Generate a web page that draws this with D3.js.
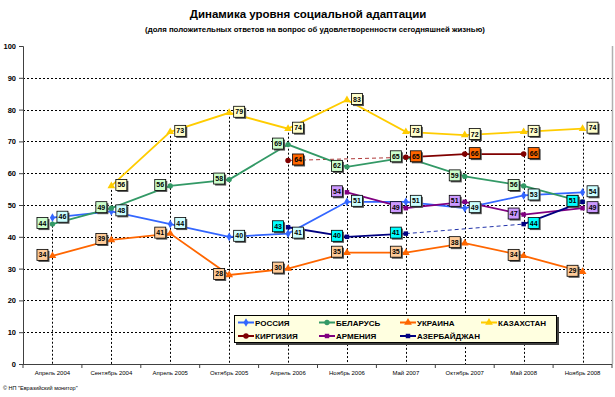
<!DOCTYPE html>
<html>
<head>
  <meta charset="utf-8">
  <script src="https://d3js.org/d3.v7.min.js"></script>
  <style>
    body { margin: 0; background: #fff; }
    svg { display: block; font-family: "Liberation Sans", Arial, sans-serif; }
    .title { font-size: 11.5px; font-weight: bold; fill: #000; }
    .subtitle { font-size: 7.8px; font-weight: bold; fill: #000; }
    .axis--y text { font-size: 7.5px; font-weight: bold; fill: #000; }
    .axis--x text { font-size: 6px; fill: #000; }
    .axis path, .axis line { stroke: #404040; }
    .grid line { stroke: #000; stroke-dasharray: 2,2; stroke-width: 1; }
    .drop line { stroke: #000; stroke-dasharray: 2,2; stroke-width: 1; }
    .legend text { font-size: 8px; font-weight: bold; fill: #000; }
    .vlabel text { font-size: 7px; font-weight: bold; fill: #000; }
    .footer { font-size: 5.5px; fill: #000; }
  </style>
</head>
<body>
  <svg id="chart" width="615" height="397"></svg>
  <script>
    var categories = ["Апрель 2004", "Сентябрь 2004", "Апрель 2005", "Октябрь 2005", "Апрель 2006",
                      "Ноябрь 2006", "Май 2007", "Октябрь 2007", "Май 2008", "Ноябрь 2008"];
    var russia     = [46, 48, 44, 40, 41, 51, 51, 49, 53, 54];
    var belarus    = [44, 49, 56, 58, 69, 62, 65, 59, 56, 51];
    var ukraine    = [34, 39, 41, 28, 30, 35, 35, 38, 34, 29];
    var kazakhstan = [null, 56, 73, 79, 74, 83, 73, 72, 73, 74];
    var kyrgyzstan = [null, null, null, null, 64, null, 65, 66, 66, null];
    var armenia    = [null, null, null, null, null, 54, 49, 51, 47, 49];
    var azerbaijan = [null, null, null, null, 43, 40, 41, null, 44, 51];
    var yTicks = [0, 10, 20, 30, 40, 50, 60, 70, 80, 90, 100];

    // side: 1 = label right of point, -1 = left; flip lists indexes on the other side
    var series = [
      { name: "РОССИЯ", values: russia, color: "#3366ff", symbol: d3.symbolDiamond, size: 22, fill: "#ccffff", side: 1, flip: [] },
      { name: "БЕЛАРУСЬ", values: belarus, color: "#339966", symbol: d3.symbolCircle, size: 22, fill: "#ccffcc", side: -1, flip: [] },
      { name: "УКРАИНА", values: ukraine, color: "#ff6600", symbol: d3.symbolTriangle, size: 26, fill: "#ffcc99", side: -1, flip: [] },
      { name: "КАЗАХСТАН", values: kazakhstan, color: "#ffcc00", symbol: d3.symbolTriangle, size: 26, fill: "#ffffcc", side: 1, flip: [] },
      { name: "КИРГИЗИЯ", values: kyrgyzstan, color: "#800000", symbol: d3.symbolCircle, size: 24, fill: "#ff6600", side: 1, flip: [] },
      { name: "АРМЕНИЯ", values: armenia, color: "#800080", symbol: d3.symbolSquare, size: 20, fill: "#cc99ff", side: -1, flip: [9] },
      { name: "АЗЕРБАЙДЖАН", values: azerbaijan, color: "#000080", symbol: d3.symbolSquare, size: 20, fill: "#00ffff", side: -1, flip: [8] }
    ];
    var gapColors = { "КИРГИЗИЯ": "#b03a3a", "АЗЕРБАЙДЖАН": "#2233aa" };

    var svg = d3.select("#chart");
    var plotLeft = 23, plotRight = 612, plotTop = 46, plotBottom = 364;

    var x = d3.scaleBand().domain(categories).range([plotLeft, plotRight]);
    var y = d3.scaleLinear().domain([0, 100]).range([plotBottom, plotTop]);
    function cx(i) { return x(categories[i]) + x.bandwidth() / 2; }

    svg.append("text").attr("class", "title")
      .attr("x", 308).attr("y", 18).attr("text-anchor", "middle")
      .text("Динамика уровня социальной адаптации");
    svg.append("text").attr("class", "subtitle")
      .attr("x", 315).attr("y", 32).attr("text-anchor", "middle")
      .text("(доля положительных ответов на вопрос об удовлетворенности сегодняшней жизнью)");

    // horizontal grid
    svg.append("g").attr("class", "grid")
      .selectAll("line")
      .data(yTicks.filter(function(d) { return d > 0 && d < 100; }))
      .enter().append("line")
      .attr("x1", plotLeft).attr("x2", plotRight)
      .attr("y1", function(d) { return Math.round(y(d)) + 0.5; })
      .attr("y2", function(d) { return Math.round(y(d)) + 0.5; });

    // drop lines from highest point in each category
    svg.append("g").attr("class", "drop")
      .selectAll("line")
      .data(categories)
      .enter().append("line")
      .attr("x1", function(d, i) { return Math.round(cx(i)) + 0.5; })
      .attr("x2", function(d, i) { return Math.round(cx(i)) + 0.5; })
      .attr("y1", function(d, i) {
        var m = d3.max(series, function(s) { return s.values[i]; });
        return y(m);
      })
      .attr("y2", plotBottom);

    // right border of plot area
    svg.append("line")
      .attr("x1", plotRight + 0.5).attr("x2", plotRight + 0.5)
      .attr("y1", plotTop).attr("y2", plotBottom)
      .attr("stroke", "#b0b0b0").attr("stroke-width", 1.5);

    // axes
    svg.append("g").attr("class", "axis axis--y")
      .attr("transform", "translate(" + plotLeft + ",0)")
      .call(d3.axisLeft(y).tickValues(yTicks).tickSize(4).tickPadding(3));

    var xAxis = svg.append("g").attr("class", "axis axis--x")
      .attr("transform", "translate(0," + plotBottom + ")")
      .call(d3.axisBottom(x).tickSize(0).tickPadding(7));
    xAxis.select(".domain").attr("d", "M" + plotLeft + ",0.5H" + plotRight);

    var bounds = categories.map(function(c) { return x(c); }).concat([plotRight]);
    svg.append("g").selectAll("line")
      .data(bounds)
      .enter().append("line")
      .attr("x1", function(d) { return d; }).attr("x2", function(d) { return d; })
      .attr("y1", plotBottom).attr("y2", plotBottom + 4)
      .attr("stroke", "#404040");

    // dashed connectors over missing values
    series.forEach(function(s) {
      var idx = [];
      s.values.forEach(function(v, i) { if (v != null) idx.push(i); });
      for (var k = 1; k < idx.length; k++) {
        if (idx[k] - idx[k - 1] > 1) {
          svg.append("line")
            .attr("x1", cx(idx[k - 1])).attr("y1", y(s.values[idx[k - 1]]))
            .attr("x2", cx(idx[k])).attr("y2", y(s.values[idx[k]]))
            .attr("stroke", gapColors[s.name] || s.color)
            .attr("stroke-width", 1)
            .attr("stroke-dasharray", "4,3");
        }
      }
    });

    // lines
    var line = d3.line()
      .defined(function(d) { return d != null; })
      .x(function(d, i) { return cx(i); })
      .y(function(d) { return y(d); });

    series.forEach(function(s) {
      svg.append("path")
        .datum(s.values)
        .attr("fill", "none")
        .attr("stroke", s.color)
        .attr("stroke-width", 1.8)
        .attr("d", line);
    });

    // markers
    series.forEach(function(s) {
      svg.append("g").selectAll("path")
        .data(s.values.map(function(v, i) { return { v: v, i: i }; }).filter(function(d) { return d.v != null; }))
        .enter().append("path")
        .attr("transform", function(d) { return "translate(" + cx(d.i) + "," + y(d.v) + ")"; })
        .attr("d", d3.symbol().type(s.symbol).size(s.size))
        .attr("fill", s.color);
    });

    // value labels
    series.forEach(function(s) {
      var g = svg.append("g").attr("class", "vlabel");
      s.values.forEach(function(v, i) {
        if (v == null) return;
        var side = s.flip.indexOf(i) >= 0 ? -s.side : s.side;
        var lx = cx(i) + side * 10, ly = y(v) - 1;
        var w = 11, h = 11;
        g.append("rect")
          .attr("x", lx - w / 2 + 1.5).attr("y", ly - h / 2 + 1.5)
          .attr("width", w).attr("height", h)
          .attr("fill", "#505050");
        g.append("rect")
          .attr("x", lx - w / 2).attr("y", ly - h / 2)
          .attr("width", w).attr("height", h)
          .attr("fill", s.fill).attr("stroke", "#000").attr("stroke-width", 0.8);
        g.append("text")
          .attr("x", lx).attr("y", ly + 2.5)
          .attr("text-anchor", "middle")
          .text(v);
      });
    });

    // legend
    var lg = svg.append("g").attr("class", "legend");
    lg.append("rect").attr("x", 236).attr("y", 317).attr("width", 323).attr("height", 28).attr("fill", "#404040");
    lg.append("rect").attr("x", 234.5).attr("y", 315.5).attr("width", 322).attr("height", 27)
      .attr("fill", "#ffffe0").attr("stroke", "#000").attr("stroke-width", 1);
    series.forEach(function(s, i) {
      var col = i % 4, row = Math.floor(i / 4);
      var lx = 238 + col * 81, ly = 322.5 + row * 13.5;
      lg.append("line")
        .attr("x1", lx).attr("x2", lx + 16)
        .attr("y1", ly).attr("y2", ly)
        .attr("stroke", s.color).attr("stroke-width", 2);
      lg.append("path")
        .attr("transform", "translate(" + (lx + 8) + "," + ly + ")")
        .attr("d", d3.symbol().type(s.symbol).size(s.size))
        .attr("fill", s.color);
      lg.append("text")
        .attr("x", lx + 17).attr("y", ly + 3)
        .text(s.name);
    });

    svg.append("text").attr("class", "footer")
      .attr("x", 3).attr("y", 390)
      .text("© НП \"Евразийский монитор\"");
  </script>
</body>
</html>
